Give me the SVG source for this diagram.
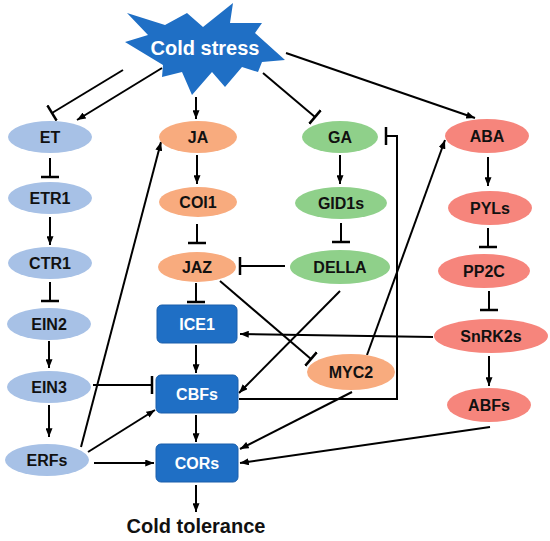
<svg xmlns="http://www.w3.org/2000/svg" width="550" height="541" viewBox="0 0 550 541">
<style>
.lbl{font-family:"Liberation Sans",Arial,sans-serif;font-weight:bold;font-size:16px;text-anchor:middle;fill:#111}
.wl{fill:#fff}
.eth{fill:#a7c1e6}
.ja{fill:#f8ab7e}
.ga{fill:#8fd08a}
.aba{fill:#f6857c}
.box{fill:#1f6fc5;stroke:#1a5eab;stroke-width:1}
.c{fill:none;stroke:#000;stroke-width:2}
.a{marker-end:url(#arr)}
.b{marker-end:url(#bar)}
</style>
<defs>
<marker id="arr" viewBox="0 0 10 8" refX="10" refY="4" markerWidth="9" markerHeight="7" markerUnits="userSpaceOnUse" orient="auto">
<path d="M0,0 L10,4 L0,8 z" fill="#000"/>
</marker>
<marker id="bar" viewBox="0 0 4 18" refX="2" refY="9" markerWidth="4" markerHeight="18" markerUnits="userSpaceOnUse" orient="auto">
<path d="M2,0 V18" stroke="#000" stroke-width="2.5"/>
</marker>
</defs>
<rect width="550" height="541" fill="#fff"/>

<g id="connectors">
<path class="c b" d="M123,70 L52,113"/>
<path class="c a" d="M162,68 L77,120"/>
<path class="c a" d="M196,97 L196,119"/>
<path class="c b" d="M263,73 L315,117"/>
<path class="c a" d="M286,53 L475,118"/>
<path class="c b" d="M50,158 L50,177"/>
<path class="c a" d="M50,217 L50,245"/>
<path class="c b" d="M50,282 L50,301"/>
<path class="c a" d="M49,341 L49,368"/>
<path class="c a" d="M49,405 L49,437"/>
<path class="c b" d="M93,385 L152,385"/>
<path class="c a" d="M88,452 L155,410"/>
<path class="c a" d="M94,463 L154,463"/>
<path class="c a" d="M81,447 L161,142"/>
<path class="c a" d="M197,155 L197,184"/>
<path class="c b" d="M197,224 L197,243"/>
<path class="c b" d="M196,283 L196,302"/>
<path class="c b" d="M220,281 L311,359"/>
<path class="c b" d="M285,266 L240,266"/>
<path class="c a" d="M340,155 L340,184"/>
<path class="c b" d="M341,223 L341,242"/>
<path class="c a" d="M340,291 L239,393"/>
<path class="c a" d="M367,355 L445,140"/>
<path class="c b" d="M239,399 H397 V136 H386"/>
<path class="c a" d="M433,337 L240,334"/>
<path class="c a" d="M196,345 L196,373"/>
<path class="c a" d="M196,415 L196,442"/>
<path class="c a" d="M352,392 L240,449"/>
<path class="c a" d="M490,427 L240,463"/>
<path class="c a" d="M196,485 L196,512"/>
<path class="c a" d="M488,157 L488,186"/>
<path class="c b" d="M488,228 L488,247"/>
<path class="c b" d="M489,291 L489,310"/>
<path class="c a" d="M489,356 L489,386"/>
</g>

<g id="cold-stress">
<polygon fill="#1f6fc5" points="127,13 165,25 187,13 203,27 233,3 230,23 262,23 255,33 285,60 262,62 258,72 242,67 225,87 212,72 192,95 182,72 162,77 163,65 125,42 148,35"/>
<text class="lbl wl" x="205" y="55" style="font-size:20px">Cold stress</text>
</g>

<g id="ET"><ellipse class="eth" cx="50" cy="137" rx="42" ry="16"/><text class="lbl" x="50" y="143">ET</text></g>
<g id="ETR1"><ellipse class="eth" cx="50" cy="198" rx="42" ry="16"/><text class="lbl" x="50" y="204">ETR1</text></g>
<g id="CTR1"><ellipse class="eth" cx="50" cy="263" rx="42" ry="16"/><text class="lbl" x="50" y="269">CTR1</text></g>
<g id="EIN2"><ellipse class="eth" cx="49" cy="324" rx="42" ry="16"/><text class="lbl" x="49" y="330">EIN2</text></g>
<g id="EIN3"><ellipse class="eth" cx="49" cy="387" rx="42" ry="16"/><text class="lbl" x="49" y="393">EIN3</text></g>
<g id="ERFs"><ellipse class="eth" cx="47" cy="460" rx="42" ry="16"/><text class="lbl" x="47" y="466">ERFs</text></g>

<g id="JA"><ellipse class="ja" cx="198" cy="137" rx="39" ry="16"/><text class="lbl" x="198" y="143">JA</text></g>
<g id="COI1"><ellipse class="ja" cx="198" cy="202" rx="39" ry="15"/><text class="lbl" x="198" y="208">COI1</text></g>
<g id="JAZ"><ellipse class="ja" cx="197" cy="267" rx="39" ry="15"/><text class="lbl" x="197" y="273">JAZ</text></g>

<g id="GA"><ellipse class="ga" cx="340" cy="137" rx="38" ry="16"/><text class="lbl" x="340" y="143">GA</text></g>
<g id="GID1s"><ellipse class="ga" cx="341" cy="203" rx="46" ry="16"/><text class="lbl" x="341" y="209">GID1s</text></g>
<g id="DELLA"><ellipse class="ga" cx="340" cy="267" rx="50" ry="17"/><text class="lbl" x="340" y="273">DELLA</text></g>

<g id="ABA"><ellipse class="aba" cx="487" cy="136" rx="42" ry="17"/><text class="lbl" x="487" y="142">ABA</text></g>
<g id="PYLs"><ellipse class="aba" cx="490" cy="208" rx="42" ry="17"/><text class="lbl" x="490" y="214">PYLs</text></g>
<g id="PP2C"><ellipse class="aba" cx="484" cy="271" rx="46" ry="17"/><text class="lbl" x="484" y="277">PP2C</text></g>
<g id="SnRK2s"><ellipse class="aba" cx="491" cy="336" rx="57" ry="17"/><text class="lbl" x="491" y="342">SnRK2s</text></g>
<g id="ABFs"><ellipse class="aba" cx="489" cy="405" rx="42" ry="17"/><text class="lbl" x="489" y="411">ABFs</text></g>

<g id="MYC2"><ellipse class="ja" cx="351" cy="372" rx="44" ry="18"/><text class="lbl" x="351" y="378">MYC2</text></g>

<g id="ICE1"><rect class="box" x="157" y="305" width="80" height="38" rx="5"/><text class="lbl wl" x="197" y="330">ICE1</text></g>
<g id="CBFs"><rect class="box" x="156" y="375" width="82" height="38" rx="5"/><text class="lbl wl" x="197" y="400">CBFs</text></g>
<g id="CORs"><rect class="box" x="156" y="444" width="82" height="38" rx="5"/><text class="lbl wl" x="197" y="469">CORs</text></g>

<g id="cold-tolerance"><text class="lbl" x="196" y="533" style="font-size:20px">Cold tolerance</text></g>
</svg>
